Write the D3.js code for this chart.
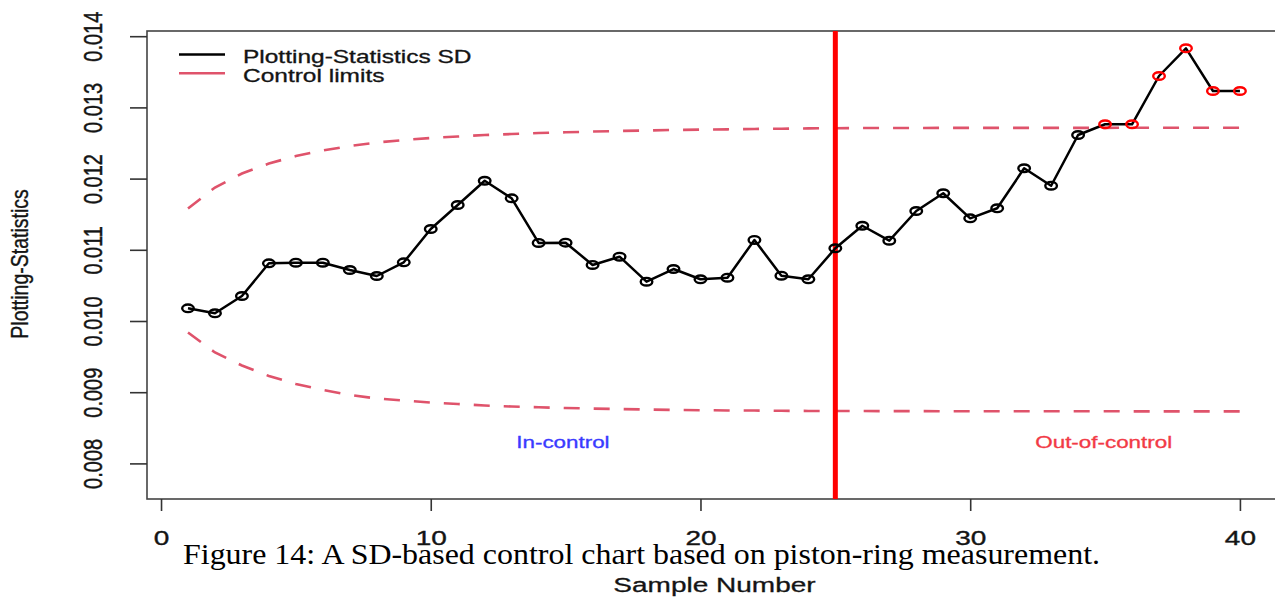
<!DOCTYPE html>
<html><head><meta charset="utf-8">
<script src="https://cdn.jsdelivr.net/npm/d3@7"></script>
<style>
html,body{margin:0;padding:0;background:#fff;}
svg{display:block;}
text.sans{font-family:"Liberation Sans",Arial,sans-serif;}
text.serif{font-family:"Liberation Serif","Times New Roman",serif;}
</style></head>
<body>
<svg id="chart" width="1275" height="597"></svg>
<script>
// ---- data ----
const samples = d3.range(1, 41);
const sdValues = [0.010178,0.010108,0.010351,0.010810,0.010819,0.010819,0.010716,0.010632,0.010824,0.011292,
  0.011629,0.011970,0.011723,0.011096,0.011100,0.010787,0.010903,0.010552,0.010730,0.010586,
  0.010608,0.011138,0.010636,0.010586,0.011021,0.011338,0.011128,0.011545,0.011794,0.011442,
  0.011583,0.012145,0.011900,0.012612,0.012763,0.012763,0.013441,0.013830,0.013230,0.013230];
const ucl = [0.011580,0.011875,0.012072,0.012212,0.012317,0.012395,0.012458,0.012507,0.012542,0.012570,
  0.012591,0.012612,0.012626,0.012640,0.012650,0.012661,0.012669,0.012676,0.012683,0.012688,
  0.012692,0.012697,0.012701,0.012705,0.012708,0.012710,0.012711,0.012711,0.012712,0.012712,
  0.012712,0.012713,0.012713,0.012713,0.012713,0.012714,0.012714,0.012714,0.012714,0.012714];
const lcl = [0.009838,0.009558,0.009375,0.009228,0.009115,0.009031,0.008961,0.008912,0.008883,0.008855,
  0.008834,0.008813,0.008799,0.008788,0.008778,0.008770,0.008763,0.008757,0.008751,0.008747,
  0.008744,0.008742,0.008739,0.008737,0.008736,0.008735,0.008734,0.008734,0.008733,0.008733,
  0.008733,0.008732,0.008732,0.008732,0.008732,0.008731,0.008731,0.008731,0.008731,0.008731];
const outOfControl = [35,36,37,38,39,40];
const changePoint = 25;
const xTicks = [0,10,20,30,40];
const yTicks = [0.008,0.009,0.010,0.011,0.012,0.013,0.014];
const legendLabels = ["Plotting-Statistics SD","Control limits"];
const regionLabels = [{t:"In-control", x:14.9}, {t:"Out-of-control", x:34.95}];
const caption = "Figure 14: A SD-based control chart based on piston-ring measurement.";

// ---- layout ----
const L = 147, R = 1282, T = 31, B = 499;
const SX = 1.4; // horizontal stretch of the original figure
const svg = d3.select("#chart");
const x = d3.scaleLinear().domain([-0.52, 41.56]).range([L, R]);
const y = d3.scaleLinear().domain([0.0075, 0.014073]).range([B, T]);
const pink = "#DF536B";
const ink = "#141414";

// frame
svg.append("rect").attr("x", L).attr("y", T).attr("width", R - L).attr("height", B - T)
  .attr("fill", "none").attr("stroke", "#444").attr("stroke-width", 1.6);

// x axis
const gx = svg.append("g").attr("transform", `translate(0,${B})`)
  .call(d3.axisBottom(x).tickValues(xTicks).tickSize(12).tickFormat(d3.format("d")));
gx.select(".domain").remove();
gx.selectAll(".tick line").attr("stroke", "#333").attr("stroke-width", 1.6);
gx.selectAll(".tick text").attr("class", "sans").attr("y", 46).attr("dy", 0)
  .style("font-size", "20px").attr("fill", ink).attr("stroke", ink).attr("stroke-width", 0.35)
  .attr("transform", `scale(${SX},1)`);

// y axis
const gy = svg.append("g").attr("transform", `translate(${L},0)`)
  .call(d3.axisLeft(y).tickValues(yTicks).tickSize(17).tickFormat(d3.format(".3f")));
gy.select(".domain").remove();
gy.selectAll(".tick line").attr("stroke", "#333").attr("stroke-width", 1.6);
gy.selectAll(".tick text").attr("class", "sans").attr("x", 0).attr("y", -45 / 1.33).attr("dy", 0)
  .attr("text-anchor", "middle").style("font-size", "20px").attr("fill", ink)
  .attr("stroke", ink).attr("stroke-width", 0.35)
  .attr("transform", `scale(1.33,1) rotate(-90)`);

// axis titles
svg.append("text").attr("class", "sans").attr("transform", `translate(${(L + R) / 2},592) scale(${SX},1)`)
  .attr("text-anchor", "middle").style("font-size", "20px").attr("fill", ink)
  .attr("stroke", ink).attr("stroke-width", 0.3).text("Sample Number");
svg.append("text").attr("class", "sans").attr("transform", `translate(28,264) scale(1.2,1) rotate(-90)`)
  .attr("text-anchor", "middle").style("font-size", "19.5px").attr("fill", ink)
  .attr("stroke", ink).attr("stroke-width", 0.3).text("Plotting-Statistics");

// control limits
const lineGen = arr => d3.line().x((d, i) => x(samples[i])).y(d => y(d))(arr);
[ucl, lcl].forEach(arr => {
  svg.append("path").attr("d", lineGen(arr)).attr("fill", "none")
    .attr("stroke", pink).attr("stroke-width", 2.6).attr("stroke-dasharray", "16,14");
});

// change point line
svg.append("line").attr("x1", x(changePoint)).attr("x2", x(changePoint))
  .attr("y1", T).attr("y2", B).attr("stroke", "#ff0000").attr("stroke-width", 5);

// data line
svg.append("path").attr("d", lineGen(sdValues)).attr("fill", "none")
  .attr("stroke", "#000").attr("stroke-width", 2.5).attr("stroke-linejoin", "round");
svg.append("g").selectAll("ellipse").data(sdValues).join("ellipse")
  .attr("cx", (d, i) => x(samples[i])).attr("cy", d => y(d))
  .attr("rx", 5.8).attr("ry", 3.8).attr("fill", "none")
  .attr("stroke", (d, i) => outOfControl.includes(samples[i]) ? "#ff0000" : "#000")
  .attr("stroke-width", 2.4);

// region labels
svg.append("text").attr("class", "sans").attr("transform", `translate(${x(regionLabels[0].x)},448) scale(${SX},1)`)
  .attr("text-anchor", "middle").style("font-size", "16px").attr("fill", "#3a3aff")
  .attr("stroke", "#3a3aff").attr("stroke-width", 0.3).text(regionLabels[0].t);
svg.append("text").attr("class", "sans").attr("transform", `translate(${x(regionLabels[1].x)},448) scale(${SX},1)`)
  .attr("text-anchor", "middle").style("font-size", "16px").attr("fill", "#f23a46")
  .attr("stroke", "#f23a46").attr("stroke-width", 0.3).text(regionLabels[1].t);

// legend
const leg = svg.append("g");
const legColors = ["#000", pink];
legendLabels.forEach((lab, i) => {
  const ly = 54.5 + i * 18.8;
  leg.append("line").attr("x1", 179).attr("x2", 225).attr("y1", ly).attr("y2", ly)
    .attr("stroke", legColors[i]).attr("stroke-width", 2.4);
  leg.append("text").attr("class", "sans").attr("transform", `translate(243,${ly + 8.7}) scale(${SX},1)`)
    .style("font-size", "17.5px").attr("fill", ink).attr("stroke", ink).attr("stroke-width", 0.3).text(lab);
});

// caption
svg.append("text").attr("class", "serif").attr("x", 183).attr("y", 564)
  .style("font-size", "30px")
  .attr("textLength", 917).attr("lengthAdjust", "spacingAndGlyphs")
  .attr("fill", "#000").text(caption);
</script>
</body></html>
